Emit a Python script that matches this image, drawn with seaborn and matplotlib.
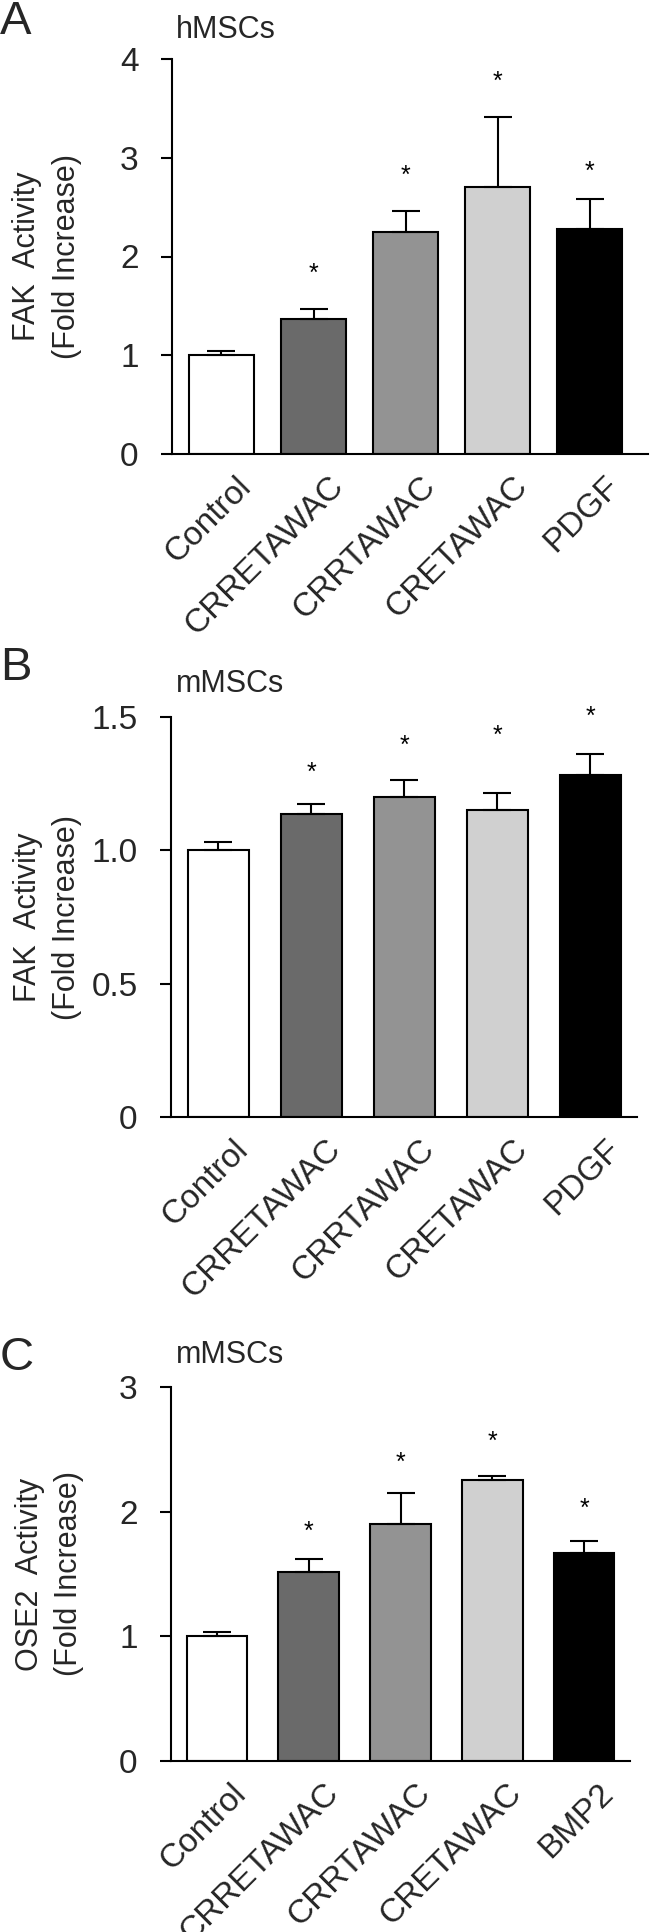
import matplotlib
matplotlib.use("Agg")
import matplotlib.pyplot as plt
import matplotlib.transforms as mtransforms
import numpy as np
import seaborn as sns

# data
groups_fak = ["Control", "CRRETAWAC", "CRRTAWAC", "CRETAWAC", "PDGF"]
groups_ose = ["Control", "CRRETAWAC", "CRRTAWAC", "CRETAWAC", "BMP2"]

fak_h_mean = [1.00, 1.37, 2.25, 2.70, 2.28]
fak_h_err = [0.04, 0.10, 0.21, 0.71, 0.30]
fak_h_star = [None, 1.82, 2.82, 3.77, 2.86]

fak_m_mean = [1.00, 1.136, 1.200, 1.152, 1.281]
fak_m_err = [0.032, 0.039, 0.062, 0.062, 0.079]
fak_m_star = [None, 1.29, 1.39, 1.43, 1.50]

ose_m_mean = [1.00, 1.518, 1.900, 2.252, 1.671]
ose_m_err = [0.036, 0.100, 0.249, 0.037, 0.096]
ose_m_star = [None, 1.84, 2.39, 2.56, 2.02]

bar_colors = ["#ffffff", "#6a6a6a", "#939393", "#d0d0d0", "#000000"]

sns.set_style("ticks")
plt.rcParams["font.family"] = ["Liberation Sans", "DejaVu Sans"]

W, H = 650, 1932
fig = plt.figure(figsize=(W / 100, H / 100), dpi=100)


def add_axes_px(left, top, right, bottom):
    return fig.add_axes([left / W, 1 - bottom / H, (right - left) / W, (bottom - top) / H])


panels = [
    dict(box=(172, 59, 648, 454), xlim=(-0.536, 4.63), width=0.705,
         groups=groups_fak, mean=fak_h_mean, err=fak_h_err, star=fak_h_star,
         ylim=(0, 4), yticks=[0, 1, 2, 3, 4], ytl=["0", "1", "2", "3", "4"],
         ylabel="FAK  Activity\n(Fold Increase)", letter="A", letter_y=0,
         title="hMSCs", title_y=15),
    dict(box=(171, 717, 637, 1117), xlim=(-0.51, 4.50), width=0.65,
         groups=groups_fak, mean=fak_m_mean, err=fak_m_err, star=fak_m_star,
         ylim=(0, 1.5), yticks=[0, 0.5, 1.0, 1.5], ytl=["0", "0.5", "1.0", "1.5"],
         ylabel="FAK  Activity\n(Fold Increase)", letter="B", letter_y=646,
         title="mMSCs", title_y=669),
    dict(box=(171, 1387, 630, 1761), xlim=(-0.50, 4.50), width=0.66,
         groups=groups_ose, mean=ose_m_mean, err=ose_m_err, star=ose_m_star,
         ylim=(0, 3), yticks=[0, 1, 2, 3], ytl=["0", "1", "2", "3"],
         ylabel="OSE2  Activity\n(Fold Increase)", letter="C", letter_y=1336,
         title="mMSCs", title_y=1340),
]

for p in panels:
    ax = add_axes_px(*p["box"])
    sns.barplot(x=p["groups"], y=p["mean"], hue=p["groups"], palette=bar_colors,
                legend=False, edgecolor="black", linewidth=1.5,
                width=p["width"], errorbar=None, ax=ax)
    pos = np.arange(len(p["groups"]))
    ax.errorbar(pos, p["mean"], yerr=[np.zeros(len(pos)), p["err"]], fmt="none",
                ecolor="black", elinewidth=1.5, capsize=10, capthick=1.5, zorder=5)
    for i, s in enumerate(p["star"]):
        if s is not None:
            ax.text(i, s, "*", ha="center", va="center", fontsize=18, color="black")

    ax.set_xlim(*p["xlim"])
    ax.set_ylim(*p["ylim"])
    ax.set_yticks(p["yticks"])
    ax.set_yticklabels(p["ytl"])
    ax.tick_params(axis="y", length=8, width=1.5, pad=16, labelsize=24, color="black")
    ax.tick_params(axis="x", length=0, pad=12, labelsize=24)
    ax.set_xticks(pos)
    ax.set_xticklabels(p["groups"], rotation=45, ha="right", rotation_mode="anchor")
    shift = mtransforms.ScaledTranslation(10 / 72, 0, fig.dpi_scale_trans)
    for lbl in ax.get_xticklabels():
        lbl.set_transform(lbl.get_transform() + shift)

    ax.set_xlabel("")
    ax.set_ylabel(p["ylabel"], fontsize=22, linespacing=1.4)
    ax.yaxis.set_label_coords(-0.19, 0.5)
    sns.despine(ax=ax)
    for sp in ("left", "bottom"):
        ax.spines[sp].set_linewidth(1.5)
        ax.spines[sp].set_color("black")

    fig.text(0 / W, 1 - p["letter_y"] / H, p["letter"], fontsize=34,
             ha="left", va="top")
    fig.text(176 / W, 1 - p["title_y"] / H, p["title"], fontsize=22,
             ha="left", va="top")

fig.savefig("out.png", dpi=100)
